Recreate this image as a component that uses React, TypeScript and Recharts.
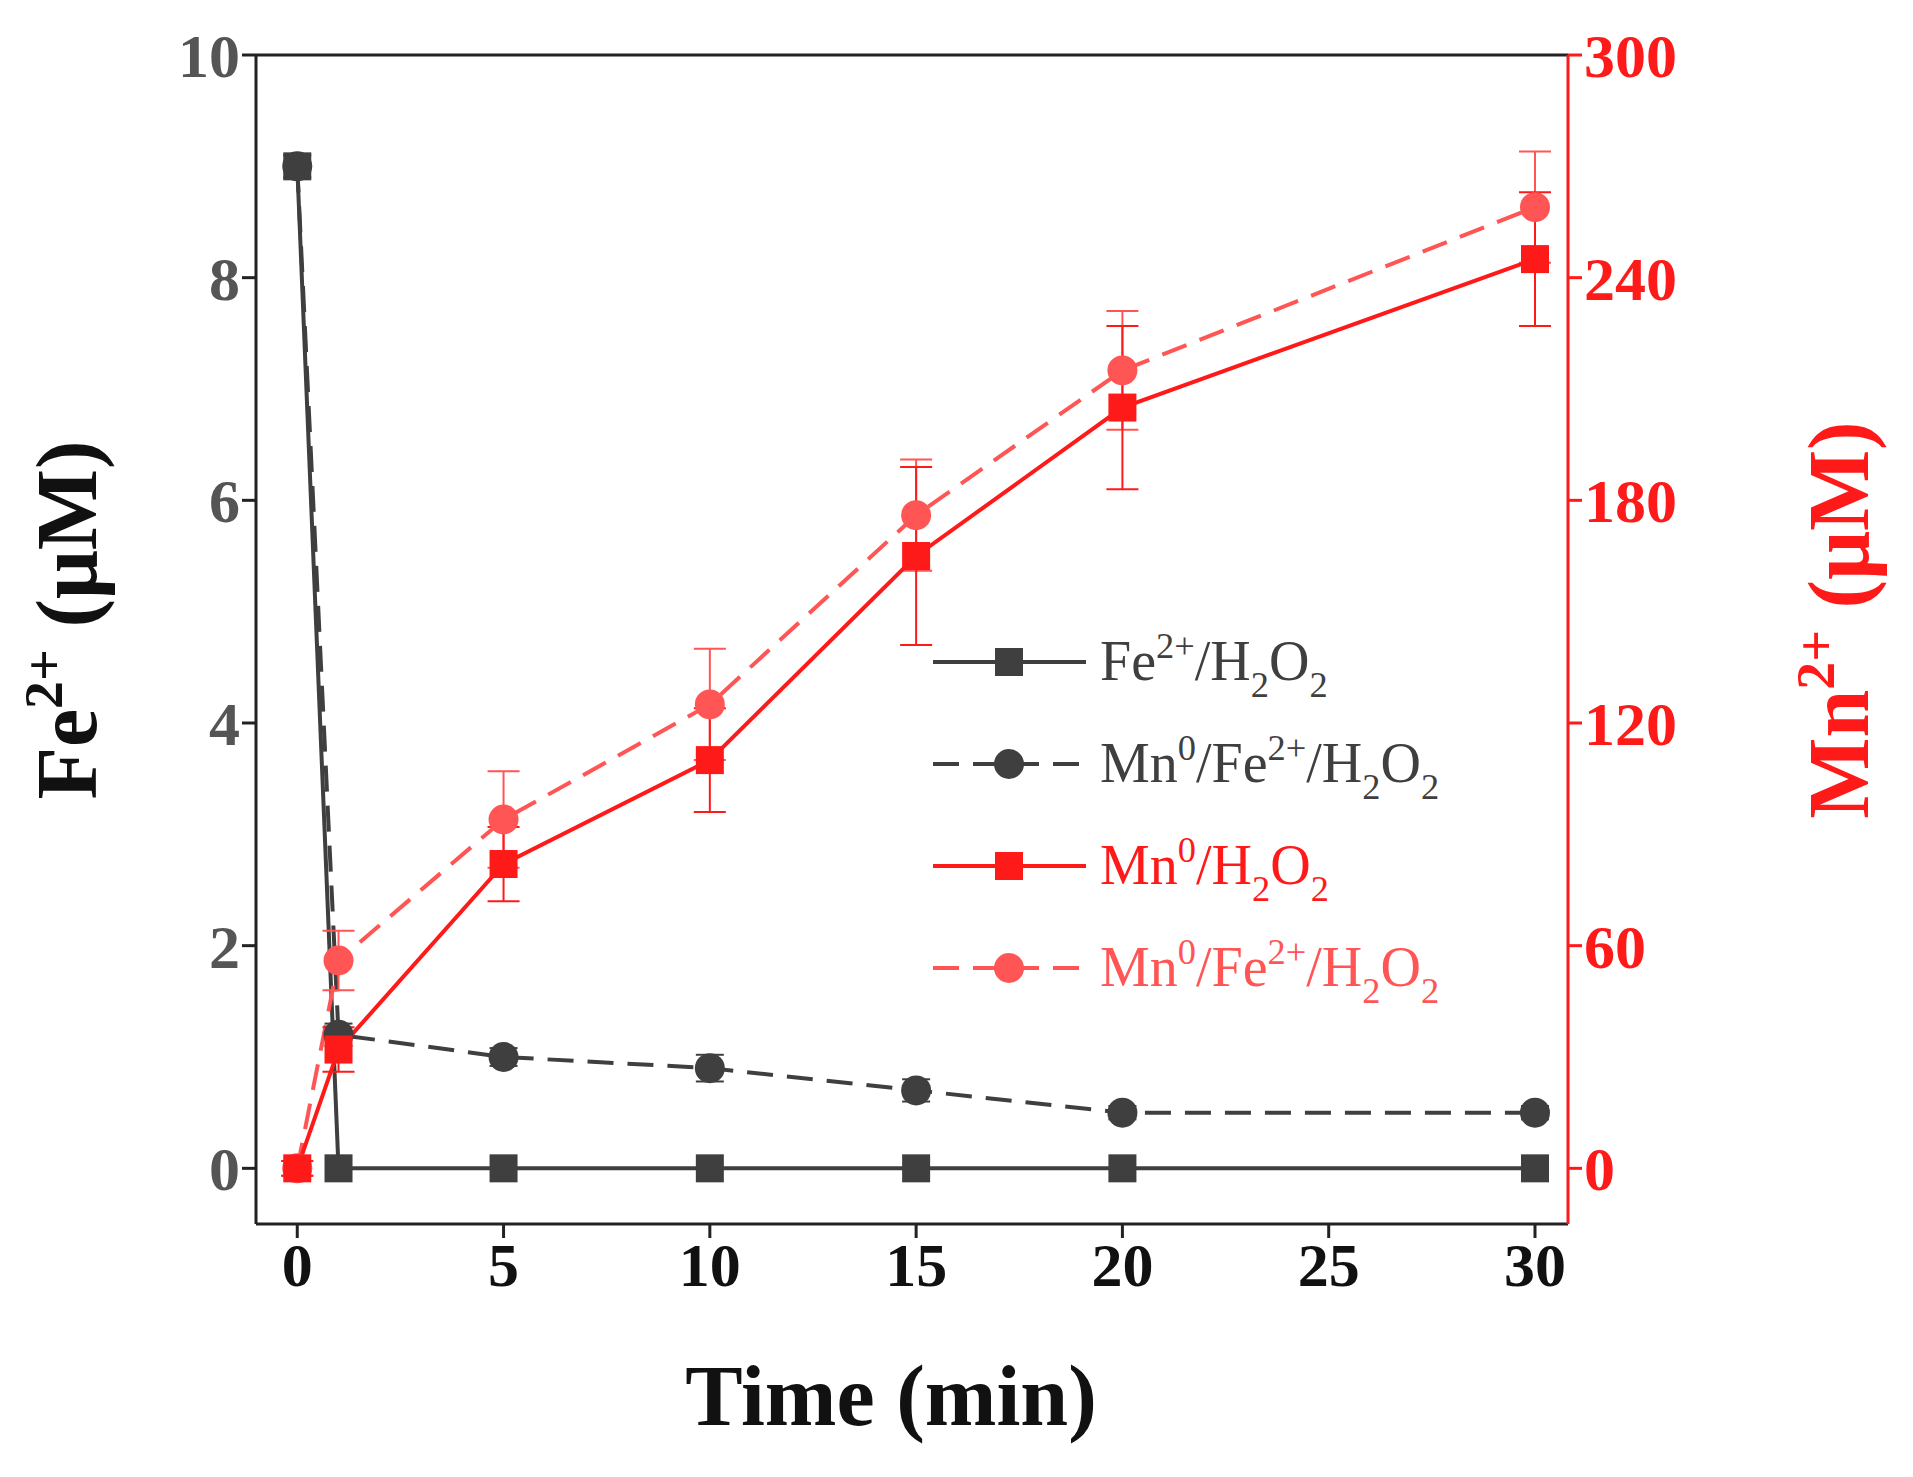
import React from 'react';
import { ComposedChart, Line, XAxis, YAxis, ErrorBar, ReferenceLine } from 'recharts';

const times = [0, 1, 5, 10, 15, 20, 30];
const feH2O2 = [9, 0, 0, 0, 0, 0, 0];
const feMnFe = [9, 1.2, 1.0, 0.9, 0.7, 0.5, 0.5];
const feMnFeErr = [0.1, 0.1, 0.08, 0.12, 0.1, 0.06, 0.06];
const mnH2O2 = [0, 32, 82, 110, 165, 205, 245];
const mnH2O2Err = [2, 6, 10, 14, 24, 22, 18];
const mnMnFe = [0, 56, 94, 125, 176, 215, 259];
const mnMnFeErr = [2, 8, 13, 15, 15, 16, 15];
const xTicks = [0, 5, 10, 15, 20, 25, 30];
const yLeftTicks = [0, 2, 4, 6, 8, 10];
const yRightTicks = [0, 60, 120, 180, 240, 300];

const data = times.map((t, i) => ({
  t, a: feH2O2[i], b: feMnFe[i], bErr: feMnFeErr[i],
  c: mnH2O2[i], cErr: mnH2O2Err[i], d: mnMnFe[i], dErr: mnMnFeErr[i],
}));

const FONT = '"Liberation Serif", "DejaVu Serif", serif';
const GRAY = '#3f3f3f';
const RED = '#ff1a1a';
const PINK = '#ff5555';

const Square = (color: string) => (p: any) =>
  p.cx == null ? null : <rect x={p.cx - 14} y={p.cy - 14} width={28} height={28} fill={color} />;
const Circle = (color: string) => (p: any) =>
  p.cx == null ? null : <circle cx={p.cx} cy={p.cy} r={15} fill={color} />;

const legend = [
  { label: ['Fe', '2+', '/H', '2', 'O', '2'], color: GRAY, dash: undefined, shape: 'sq' },
  { label: ['Mn', '0', '/Fe', '2+', '/H', '2', 'O', '2'], color: GRAY, dash: '26 14', shape: 'ci' },
  { label: ['Mn', '0', '/H', '2', 'O', '2'], color: RED, dash: undefined, shape: 'sq' },
  { label: ['Mn', '0', '/Fe', '2+', '/H', '2', 'O', '2'], color: PINK, dash: '26 14', shape: 'ci' },
];

function Rich({ parts, size }: { parts: string[]; size: number }) {
  return (
    <>
      {parts.map((p, i) => {
        if (i % 2 === 0) return <tspan key={i} fontSize={size}>{p}</tspan>;
        const sub = p === '2' && (parts[i - 1].endsWith('H') || parts[i - 1].endsWith('O'));
        return <tspan key={i} fontSize={size * 0.65} dy={sub ? size * 0.3 : -size * 0.4}>{p}<tspan dy={sub ? -size * 0.3 : size * 0.4}>{'\u200b'}</tspan></tspan>;
      })}
    </>
  );
}

export default function App() {
  const tickStyle = { fontFamily: FONT, fontWeight: 'bold', fontSize: 62 };
  return (
    <div style={{ position: 'relative', width: 1913, height: 1477, margin: -8, background: '#fff' }}>
      <ComposedChart width={1913} height={1477} data={data} margin={{ top: 55, right: 0, bottom: 0, left: 0 }}>
        <XAxis dataKey="t" type="number" domain={[-1, 30.8]} ticks={xTicks} height={253}
          stroke="#222" strokeWidth={3} tickSize={14} tick={{ ...tickStyle, fill: '#111' }} tickMargin={4} />
        <YAxis yAxisId="l" domain={[-0.5, 10]} ticks={yLeftTicks} width={256} allowDataOverflow
          stroke="#222" strokeWidth={3} tickSize={14} tick={{ ...tickStyle, fill: '#555' }} />
        <YAxis yAxisId="r" orientation="right" domain={[-15, 300]} ticks={yRightTicks} width={345} allowDataOverflow
          stroke={RED} strokeWidth={3} tickSize={14} tick={{ ...tickStyle, fill: RED }} />
        <ReferenceLine yAxisId="l" y={10} stroke="#222" strokeWidth={3} />
        <Line yAxisId="l" dataKey="a" stroke={GRAY} strokeWidth={4} dot={Square(GRAY)} isAnimationActive={false} />
        <Line yAxisId="l" dataKey="b" stroke={GRAY} strokeWidth={4} strokeDasharray="26 14" dot={Circle(GRAY)} isAnimationActive={false}>
          <ErrorBar dataKey="bErr" stroke={GRAY} strokeWidth={2} width={14} />
        </Line>
        <Line yAxisId="r" dataKey="d" stroke={PINK} strokeWidth={4} strokeDasharray="26 14" dot={Circle(PINK)} isAnimationActive={false}>
          <ErrorBar dataKey="dErr" stroke={PINK} strokeWidth={2} width={16} />
        </Line>
        <Line yAxisId="r" dataKey="c" stroke={RED} strokeWidth={4} dot={Square(RED)} isAnimationActive={false}>
          <ErrorBar dataKey="cErr" stroke={RED} strokeWidth={2} width={16} />
        </Line>
      </ComposedChart>
      <svg width={1913} height={1477} style={{ position: 'absolute', left: 0, top: 0, pointerEvents: 'none' }}>
        <text x={891} y={1425} textAnchor="middle" fontFamily={FONT} fontWeight="bold" fontSize={86} fill="#111">Time (min)</text>
        <text transform="translate(96,620) rotate(-90)" textAnchor="middle" fontFamily={FONT} fontWeight="bold" fontSize={86} fill="#111">
          <Rich parts={['Fe', '2+', ' (μM)']} size={86} />
        </text>
        <text transform="translate(1868,620) rotate(-90)" textAnchor="middle" fontFamily={FONT} fontWeight="bold" fontSize={86} fill={RED}>
          <Rich parts={['Mn', '2+', ' (μM)']} size={86} />
        </text>
        {legend.map((l, i) => {
          const y = 662 + i * 102;
          return (
            <g key={i}>
              <line x1={933} x2={1086} y1={y} y2={y} stroke={l.color} strokeWidth={4} strokeDasharray={l.dash} />
              {l.shape === 'sq'
                ? <rect x={995} y={y - 14} width={28} height={28} fill={l.color} />
                : <circle cx={1009} cy={y} r={15} fill={l.color} />}
              <text x={1100} y={y + 18} fontFamily={FONT} fontSize={56} fill={l.color}>
                <Rich parts={l.label} size={56} />
              </text>
            </g>
          );
        })}
      </svg>
    </div>
  );
}
